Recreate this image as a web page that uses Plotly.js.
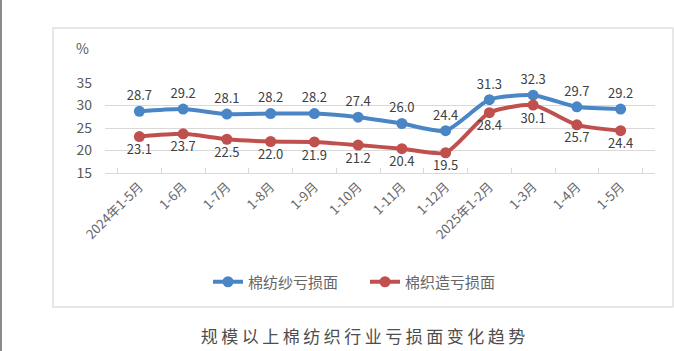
<!DOCTYPE html>
<html>
<head>
<meta charset="utf-8">
<script src="https://cdn.plot.ly/plotly-3.0.1.min.js"></script>
<style>
html,body{margin:0;padding:0;background:#fff;}
#chart{width:674px;height:351px;}
</style>
</head>
<body>
<div id="chart"></div>
<script>
const categories = ["2024年1-5月","1-6月","1-7月","1-8月","1-9月","1-10月","1-11月","1-12月","2025年1-2月","1-3月","1-4月","1-5月"];
const yarnLoss = [28.7,29.2,28.1,28.2,28.2,27.4,26.0,24.4,31.3,32.3,29.7,29.2];
const weaveLoss = [23.1,23.7,22.5,22.0,21.9,21.2,20.4,19.5,28.4,30.1,25.7,24.4];
const seriesNames = ["棉纺纱亏损面","棉织造亏损面"];
const chartTitle = "规模以上棉纺织行业亏损面变化趋势";

const font = "Noto Sans CJK SC, sans-serif";
const blue = "#4a86c6", red = "#c0504d";

function fmt(v){ return v.toFixed(1); }

const traces = [
  {x: categories, y: yarnLoss, name: seriesNames[0], type: "scatter", mode: "lines+markers+text",
   line: {color: blue, width: 4, shape: "spline", smoothing: 0.6},
   marker: {color: blue, size: 11},
   text: yarnLoss.map(fmt), textposition: "top center",
   textfont: {family: font, size: 13, color: "#404040"}, cliponaxis: false, hoverinfo: "none"},
  {x: categories, y: weaveLoss, name: seriesNames[1], type: "scatter", mode: "lines+markers+text",
   line: {color: red, width: 4, shape: "spline", smoothing: 0.6},
   marker: {color: red, size: 11},
   text: weaveLoss.map(fmt), textposition: "bottom center",
   textfont: {family: font, size: 13, color: "#404040"}, cliponaxis: false, hoverinfo: "none"}
];

const L = 105, R = 19, T = 83, B = 178, W = 674, H = 351;
const pw = W - L - R, ph = H - T - B;
const px = v => (v - L) / pw;
const py = v => (H - B - v) / ph;

const layout = {
  width: W, height: H,
  margin: {l: L, r: R, t: T, b: B, autoexpand: false},
  paper_bgcolor: "#ffffff", plot_bgcolor: "#ffffff",
  font: {family: font, color: "#595959"},
  showlegend: true,
  legend: {orientation: "h", x: px(365), xanchor: "center", y: py(282), yanchor: "middle",
           font: {family: font, size: 15, color: "#666666"}, itemclick: false, traceorder: "normal",
           entrywidth: 112, entrywidthmode: "pixels"},
  xaxis: {type: "category", tickangle: -45, tickfont: {family: font, size: 13, color: "#666666"},
          showgrid: false, showline: true, linecolor: "#d9d9d9", linewidth: 1,
          ticks: "inside", ticklen: 5, tickcolor: "#d9d9d9", tickson: "boundaries",
          zeroline: false, fixedrange: true},
  yaxis: {range: [15, 35], tickvals: [15,20,25,30,35], showgrid: true, gridcolor: "#d9d9d9", gridwidth: 1,
          zeroline: false, showline: false, ticks: "", ticklabelstandoff: 12,
          tickfont: {family: font, size: 14, color: "#595959"}, fixedrange: true},
  shapes: [
    {type: "rect", xref: "paper", yref: "paper", x0: px(53), x1: px(673), y0: py(307), y1: py(28),
     line: {color: "#e0e0e0", width: 1.5}, fillcolor: "rgba(0,0,0,0)", layer: "below"},
    {type: "line", xref: "paper", yref: "paper", x0: px(1), x1: px(1), y0: py(351), y1: py(0),
     line: {color: "#666666", width: 1.5}}
  ],
  annotations: [
    {text: "%", xref: "paper", yref: "paper", x: px(82), y: py(48), showarrow: false,
     font: {family: font, size: 14, color: "#595959"}, xanchor: "center", yanchor: "middle"},
    {text: chartTitle, xref: "paper", yref: "paper", x: px(363), y: py(335), showarrow: false,
     font: {family: font, size: 17, color: "#4d4d4d"}, xanchor: "center", yanchor: "middle"}
  ]
};

const spacing = 3.5;
Plotly.newPlot("chart", traces, layout, {displayModeBar: false, staticPlot: true}).then(function(gd){
  const anns = gd.querySelectorAll(".annotation-text");
  anns.forEach(function(t){
    if (t.textContent === chartTitle) {
      t.style.letterSpacing = spacing + "px";
      t.setAttribute("text-anchor", "start");
      const bb = t.getBBox();
      const ctm = t.getCTM();
      const absLeft = ctm.e + bb.x;
      const shift = (363 - (bb.width - spacing) / 2) - absLeft;
      t.setAttribute("x", String(parseFloat(t.getAttribute("x") || 0) + shift));
    }
  });
});
</script>
</body>
</html>
